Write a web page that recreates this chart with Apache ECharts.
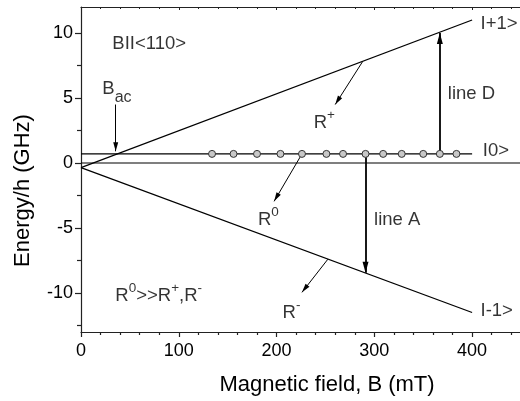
<!DOCTYPE html>
<html>
<head>
<meta charset="utf-8">
<script src="https://cdn.jsdelivr.net/npm/echarts@6/dist/echarts.min.js"></script>
<style>html,body{margin:0;padding:0;background:#fff}#c{width:520px;height:401px}</style>
</head>
<body>
<div id="c"></div>
<script>
// ---- data ----
const levelPlusX = [0, 400];
const levelPlusY = [-0.35, 11.0];
const levelMinusX = [0, 400];
const levelMinusY = [-0.35, -11.5];
const levelZeroX = [0, 400];
const levelZeroY = [0.7, 0.7];
const baseLineX = [0, 450];
const baseLineY = [0, 0];
const pointsX = [134, 156, 180, 204, 226, 251, 268, 291, 309, 328, 350, 367, 384];
const pointsY = [0.7, 0.7, 0.7, 0.7, 0.7, 0.7, 0.7, 0.7, 0.7, 0.7, 0.7, 0.7, 0.7];
// transition arrows (line D, line A)
const bigArrowFrom = [[367, 0.7], [291, 0.7]];
const bigArrowTo = [[367, 10.0], [291, -8.45]];
// pointer arrows (B_ac, R+, R0, R-)
const smallArrowFrom = [[35.5, 4.5], [288, 7.8], [226, 0.7], [252.5, -7.4]];
const smallArrowTo = [[35.5, 0.9], [260, 4.5], [197.5, -2.95], [226, -9.95]];
// annotations: text (rich), x (mT), y (GHz)
const annText = ['{m|BII<110>}', '{mt|B}{sub|ac}', '{m|line D}', '{m|line A}', '{m|R}{sup|+}', '{m|R}{sup|0}', '{m|R}{sup|-}', '{m|R}{sup|0}{m|>>R}{sup|+}{m|,R}{sup|-}', '{m|I+1>}', '{m|I0>}', '{m|I-1>}'];
const annX = [32.0, 21.8, 375.2, 299.7, 238.0, 180.9, 206.2, 35.1, 408.6, 411.0, 408.6];
const annY = [9.23, 5.78, 5.33, -4.36, 3.12, -4.31, -11.5, -10.15, 10.75, 0.95, -11.31];
const xTicks = [0, 100, 200, 300, 400];
const yTicks = [-10, -5, 0, 5, 10];
const yMinorTicks = [-12.5, -7.5, -2.5, 2.5, 7.5];

const FONT = 'Liberation Sans';
const INK = '#000';
const zip = (a, b) => a.map((v, i) => [v, b[i]]);

const chart = echarts.init(document.getElementById('c'), null, {renderer: 'canvas'});
const lineStyleBase = {color: INK, width: 1.3};

chart.setOption({
  animation: false,
  backgroundColor: '#fff',
  grid: {left: 81, top: 7, width: 440, height: 325, outerBoundsMode: 'none'},
  xAxis: [{
    type: 'value', min: 0, max: 450, interval: 100, position: 'bottom',
    axisLine: {onZero: false, lineStyle: {color: '#222', width: 1.2}},
    axisTick: {length: 5, lineStyle: {color: '#222', width: 1.2}},
    minorTick: {show: true, splitNumber: 5, length: 3, lineStyle: {color: '#222', width: 1.2}},
    splitLine: {show: false},
    axisLabel: {fontFamily: FONT, fontSize: 18, color: INK, margin: 10, customValues: xTicks},
    name: 'Magnetic field, B (mT)', nameLocation: 'middle', nameGap: 42,
    nameTextStyle: {fontFamily: FONT, fontSize: 22, color: INK, padding: [0, 0, 0, 52]}
  }, {
    type: 'value', min: 0, max: 450, interval: 100, position: 'top',
    axisLine: {onZero: false, lineStyle: {color: '#222', width: 1.2}},
    axisTick: {inside: true, length: 3, lineStyle: {color: '#222', width: 1}},
    minorTick: {show: true, splitNumber: 5, length: 2, lineStyle: {color: '#222', width: 1}},
    splitLine: {show: false}, axisLabel: {show: false}
  }],
  yAxis: [{
    type: 'value', min: -13, max: 12, position: 'left',
    axisLine: {onZero: false, lineStyle: {color: '#222', width: 1.2}},
    axisTick: {length: 6, customValues: yTicks, lineStyle: {color: '#222', width: 1.2}},
    splitLine: {show: false},
    axisLabel: {fontFamily: FONT, fontSize: 18, color: INK, margin: 8, customValues: yTicks},
    name: 'Energy/h (GHz)', nameLocation: 'middle', nameGap: 47, nameRotate: 90,
    nameTextStyle: {fontFamily: FONT, fontSize: 22, color: INK, padding: [0, 42, 0, 0]}
  }, {
    type: 'value', min: -13, max: 12, position: 'left',
    axisLine: {show: false},
    axisTick: {length: 4, customValues: yMinorTicks, lineStyle: {color: '#222', width: 1.2}},
    splitLine: {show: false}, axisLabel: {show: false}
  }],
  series: [
    {type: 'line', data: zip(baseLineX, baseLineY), symbol: 'none', lineStyle: {color: INK, width: 1.2}, silent: true},
    {type: 'line', data: zip(levelPlusX, levelPlusY), symbol: 'none', lineStyle: lineStyleBase, silent: true},
    {type: 'line', data: zip(levelMinusX, levelMinusY), symbol: 'none', lineStyle: lineStyleBase, silent: true},
    {type: 'line', data: zip(levelZeroX, levelZeroY), symbol: 'none', lineStyle: lineStyleBase, silent: true},
    {type: 'scatter', data: zip(pointsX, pointsY), symbol: 'circle', symbolSize: 7,
     itemStyle: {color: '#c8c8c8', borderColor: '#333', borderWidth: 1, opacity: 1}, silent: true, z: 5},
    {type: 'line', data: [], silent: true,
     markLine: {silent: true, animation: false, symbol: ['none', 'triangle'], symbolSize: [6, 11],
       symbolOffset: [[0, 0], [0, 5.5]],
       label: {show: false}, lineStyle: {color: INK, width: 1.8, type: 'solid'},
       emphasis: {disabled: true},
       data: bigArrowFrom.map((f, i) => [{coord: f}, {coord: bigArrowTo[i]}])}},
    {type: 'line', data: [], silent: true,
     markLine: {silent: true, animation: false, symbol: ['none', 'triangle'], symbolSize: [5, 9],
       symbolOffset: [[0, 0], [0, 4.5]],
       label: {show: false}, lineStyle: {color: INK, width: 1, type: 'solid'},
       emphasis: {disabled: true},
       data: smallArrowFrom.map((f, i) => [{coord: f}, {coord: smallArrowTo[i]}])}},
    {type: 'scatter', silent: true, symbolSize: 0, z: 10,
     data: annText.map((t, i) => ({value: [annX[i], annY[i]], name: t})),
     label: {show: true, position: [0, 0], align: 'left', verticalAlign: 'top',
       formatter: p => p.name,
       offset: [0, -14],
       rich: {
         m: {fontFamily: FONT, fontSize: 18.5, color: INK, lineHeight: 24, verticalAlign: 'bottom'},
         sup: {fontFamily: FONT, fontSize: 13.5, color: INK, lineHeight: 13, verticalAlign: 'top'},
         mt: {fontFamily: FONT, fontSize: 18.5, color: INK, lineHeight: 38, verticalAlign: 'top', padding: [6, 0, 0, 0]},
         sub: {fontFamily: FONT, fontSize: 16, color: INK, lineHeight: 14, verticalAlign: 'top', padding: [15.5, 0, 0, 0]}
       }}}
  ]
});
</script>
</body>
</html>
